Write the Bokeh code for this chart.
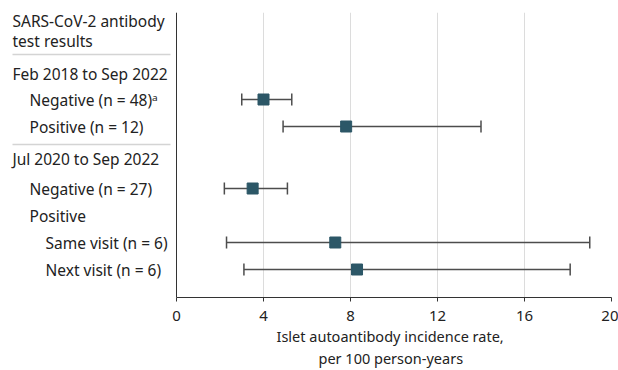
from bokeh.plotting import figure
from bokeh.models import (ColumnDataSource, Range1d, LinearAxis, FixedTicker, Whisker,
                          TeeHead, Span, Grid, Title)
from bokeh.core.properties import value
from bokeh.embed import file_html
from bokeh.resources import INLINE

# ---- data ----
row_labels = ["Feb 2018 to Sep 2022", "Negative (n = 48)ᵃ", "Positive (n = 12)",
              "Jul 2020 to Sep 2022", "Negative (n = 27)", "Positive",
              "Same visit (n = 6)", "Next visit (n = 6)"]
row_indent = [0, 1, 1, 0, 1, 1, 2, 2]
data_rows = ["Negative (n = 48)ᵃ", "Positive (n = 12)", "Negative (n = 27)",
             "Same visit (n = 6)", "Next visit (n = 6)"]
estimate = [4.0, 7.8, 3.5, 7.3, 8.3]
lower = [3.0, 4.9, 2.2, 2.3, 3.1]
upper = [5.3, 14.0, 5.1, 19.0, 18.1]
x_ticks = [0, 4, 8, 12, 16, 20]
header = ["SARS-CoV-2 antibody", "test results"]
x_title = ["Islet autoantibody incidence rate,", "per 100 person-years"]

# ---- layout (pixels) ----
W, H = 618, 370
LEFT, RIGHT = 176, 611     # px where x = 0 and x = 20
TOP, BOTTOM = 12, 297
px_per_unit = (RIGHT - LEFT) / 20.0
x_start = -LEFT / px_per_unit

def px2x(px):
    return x_start + px / px_per_unit

def py2y(py):
    return py - TOP

header_py = [20, 40]
row_py = [73, 99, 126, 158, 188, 215, 242, 269]
sep_py = [54, 144]
indent_px = [12, 29, 45]
title_left_px = [276, 318]

FONT = "Noto Sans"
FS = "15.5px"
TXT = "#222222"

p = figure(width=W, height=H, output_backend="svg", toolbar_location=None,
           x_range=Range1d(x_start, 20), y_range=Range1d(py2y(BOTTOM), py2y(TOP)),
           x_axis_type=None, y_axis_type=None,
           min_border_left=0, min_border_right=W - RIGHT, min_border_top=TOP,
           min_border_bottom=H - BOTTOM)
p.outline_line_color = None
p.background_fill_color = "white"
p.border_fill_color = "white"

xaxis = LinearAxis(ticker=FixedTicker(ticks=x_ticks), bounds=(0, 20))
xaxis.axis_line_color = "#333333"
xaxis.major_tick_line_color = "#333333"
xaxis.major_tick_out = 4
xaxis.major_tick_in = 0
xaxis.minor_tick_line_color = None
xaxis.major_label_text_font = FONT
xaxis.major_label_text_font_size = "15px"
xaxis.major_label_text_color = TXT
xaxis.major_label_standoff = 9
p.add_layout(xaxis, "below")

grid = Grid(dimension=0, ticker=FixedTicker(ticks=x_ticks), bounds=(0, 20),
            grid_line_color="#dcdcdc", grid_line_width=1)
p.add_layout(grid)

p.add_layout(Span(location=0, dimension="height", line_color="#333333", line_width=1))

for sp in sep_py:
    p.segment(x0=[px2x(12)], x1=[px2x(170)], y0=[py2y(sp)], y1=[py2y(sp)],
              line_color="#d4d4d4", line_width=1.5)

p.text(x=[px2x(indent_px[0])] * 2, y=[py2y(v) for v in header_py], text=header,
       text_font=value(FONT), text_font_size=FS, text_color=TXT,
       text_baseline="middle", text_align="left")

p.text(x=[px2x(indent_px[i]) for i in row_indent], y=[py2y(v) for v in row_py],
       text=row_labels, text_font=value(FONT), text_font_size=FS, text_color=TXT,
       text_baseline="middle", text_align="left")

ys = [py2y(row_py[row_labels.index(r)]) for r in data_rows]
src = ColumnDataSource(dict(y=ys, est=estimate, lo=lower, hi=upper))
w = Whisker(source=src, base="y", lower="lo", upper="hi", dimension="width",
            line_color="#4d4d4d", line_width=1.5,
            lower_head=TeeHead(size=12, line_color="#4d4d4d", line_width=1.5),
            upper_head=TeeHead(size=12, line_color="#4d4d4d", line_width=1.5))
p.add_layout(w)
p.scatter(x="est", y="y", source=src, marker="square", size=11,
          fill_color="#2c5767", line_color="#2c5767")

for t, lx in zip(x_title, title_left_px):
    p.add_layout(Title(text=t, align="left", offset=lx, text_font=FONT,
                       text_font_size="14.5px", text_color=TXT, text_font_style="normal",
                       standoff=0), "below")

open("out.html", "w").write(file_html(p, INLINE))
